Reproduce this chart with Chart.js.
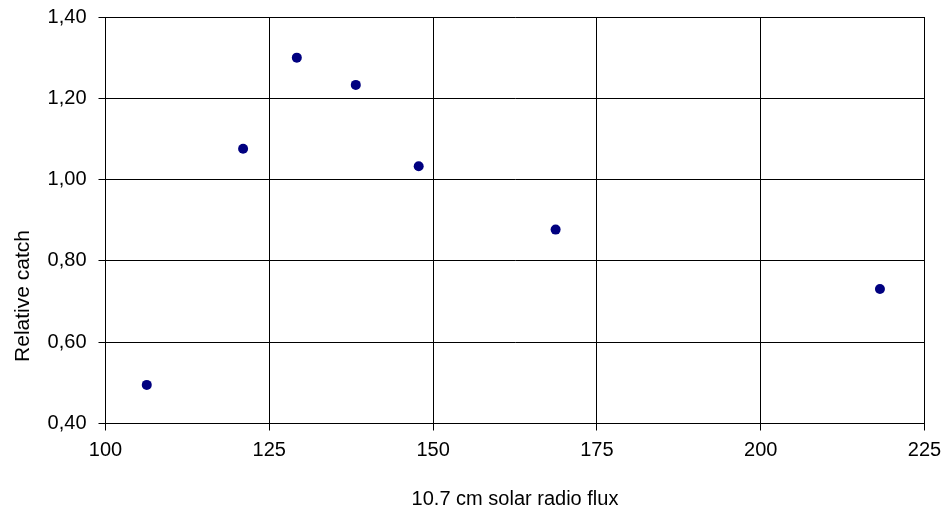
<!DOCTYPE html>
<html>
<head>
<meta charset="utf-8">
<script src="https://cdn.jsdelivr.net/npm/chart.js@4/dist/chart.umd.min.js"></script>
<style>
    html, body { margin: 0; padding: 0; background: #fff; }
    #wrap { width: 946px; height: 513px; position: relative; }
</style>
</head>
<body>
<div id="wrap"><canvas id="fluxChart"></canvas></div>
<script>
    const fluxValues = [106.3, 121.0, 129.2, 138.2, 147.8, 168.7, 218.2];
    const catchValues = [0.495, 1.076, 1.300, 1.233, 1.033, 0.877, 0.731];
    const xTitle = '10.7 cm solar radio flux';
    const yTitle = 'Relative catch';

    const points = fluxValues.map((x, i) => ({ x: x, y: catchValues[i] }));

    // y-axis title sits lower than the plot centre in the original, so draw it by hand
    const yTitlePlugin = {
        id: 'yTitle',
        afterDraw(chart) {
            const ctx = chart.ctx;
            ctx.save();
            ctx.translate(23, 296);
            ctx.rotate(-Math.PI / 2);
            ctx.font = '21px "Liberation Sans", Arial, sans-serif';
            ctx.fillStyle = '#000';
            ctx.textAlign = 'center';
            ctx.textBaseline = 'middle';
            ctx.fillText(yTitle, 0, 0);
            ctx.restore();
        },
    };

    document.addEventListener('DOMContentLoaded', () => {
        Chart.defaults.font.family = '"Liberation Sans", Arial, sans-serif';
        Chart.defaults.font.size = 20;
        Chart.defaults.color = '#000';

        new Chart(document.getElementById('fluxChart').getContext('2d'), {
            type: 'scatter',
            data: {
                datasets: [
                    {
                        data: points,
                        backgroundColor: '#000080',
                        borderColor: '#000080',
                        borderWidth: 0,
                        pointRadius: 5,
                        pointHoverRadius: 5,
                    },
                ],
            },
            options: {
                responsive: true,
                maintainAspectRatio: false,
                animation: false,
                layout: {
                    padding: { top: 17, right: 21.5, bottom: 0, left: 0 },
                },
                plugins: {
                    legend: { display: false },
                    tooltip: { enabled: false },
                },
                scales: {
                    x: {
                        type: 'linear',
                        min: 100,
                        max: 225,
                        afterFit(scale) {
                            scale.height = 89.5;
                            scale.paddingLeft = 0;
                            scale.paddingRight = 0;
                        },
                        border: { color: '#000', width: 1 },
                        grid: {
                            color: '#000',
                            lineWidth: 1,
                            tickLength: 7,
                        },
                        ticks: {
                            stepSize: 25,
                            padding: 8,
                            maxRotation: 0,
                            color: '#000',
                        },
                        title: {
                            display: true,
                            text: xTitle,
                            color: '#000',
                            padding: { top: 0, bottom: 2 },
                        },
                    },
                    y: {
                        min: 0.4,
                        max: 1.4,
                        afterFit(scale) {
                            scale.width = 105.5;
                            scale.paddingTop = 0;
                            scale.paddingBottom = 0;
                        },
                        border: { color: '#000', width: 1 },
                        grid: {
                            color: '#000',
                            lineWidth: 1,
                            tickLength: 7,
                        },
                        ticks: {
                            stepSize: 0.2,
                            padding: 12,
                            color: '#000',
                            callback: (value) => value.toFixed(2).replace('.', ','),
                        },
                    },
                },
            },
            plugins: [yTitlePlugin],
        });
    });
</script>
</body>
</html>
